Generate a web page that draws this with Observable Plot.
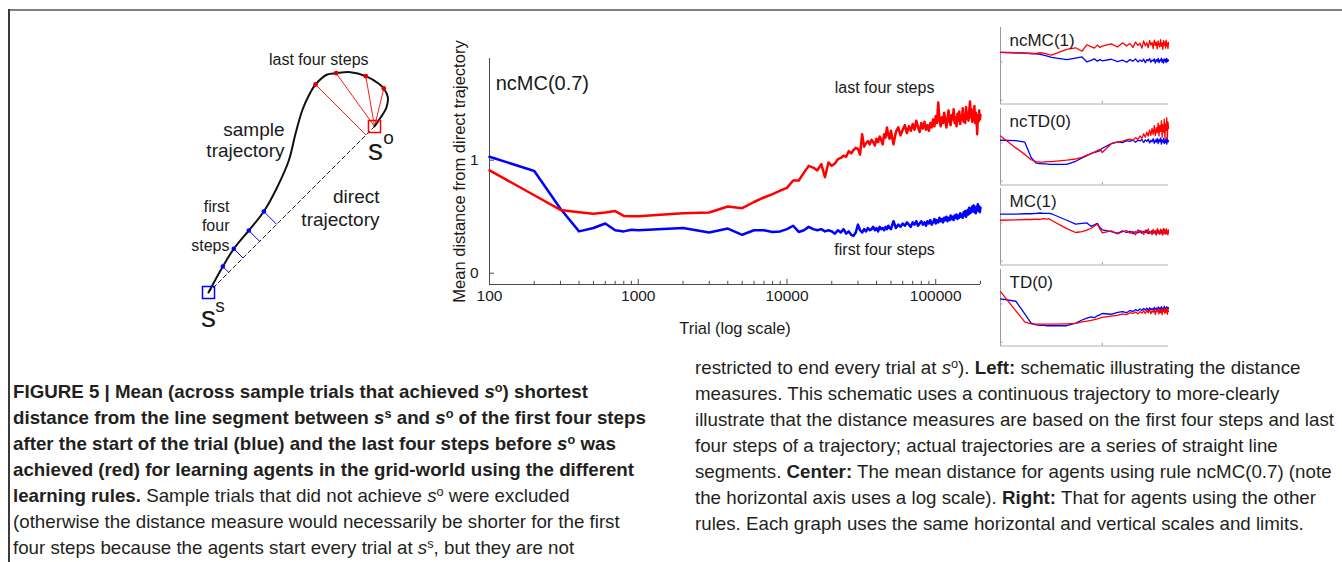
<!DOCTYPE html>
<html><head><meta charset="utf-8">
<script src="https://cdn.jsdelivr.net/npm/d3@7"></script>
<script src="https://cdn.jsdelivr.net/npm/@observablehq/plot@0.6"></script>
<style>
body{margin:0;background:#fff;}
#fig{position:relative;width:1342px;height:562px;overflow:hidden;font-family:"Liberation Sans",Arial,sans-serif;color:#231f20;background:#fff;}
.abs{position:absolute;}
.cap{position:absolute;white-space:nowrap;font-size:18.5px;line-height:26px;height:26px;}
.cap .in{display:inline-block;transform-origin:0 50%;}
.cap sup{font-size:0.68em;vertical-align:0;position:relative;top:-0.5em;}
</style></head>
<body>
<div id="fig">
  <div class="abs" style="left:8px;top:9px;width:1334px;height:2px;background:#808080"></div>
  <div class="abs" style="left:8px;top:9px;width:2px;height:553px;background:#3a3a3a"></div>
  <div id="schem" class="abs" style="left:0;top:0"></div>
  <div id="center" class="abs" style="left:440px;top:30px"></div>
  <div id="p0" class="abs"></div><div id="p1" class="abs"></div><div id="p2" class="abs"></div><div id="p3" class="abs"></div>
  <div id="caption"></div>
</div>
<script>
// ---------- data ----------
const xDomain = [100, 200000];
const yDomain = [-0.1, 1.9];
const majorTicks = [100, 1000, 10000, 100000];
const minorTicks = [200,300,400,500,600,700,800,900,2000,3000,4000,5000,6000,7000,8000,9000,20000,30000,40000,50000,60000,70000,80000,90000,200000];
const yTicks = [0, 1];
const panelXTicks = [100, 10000];

// trial numbers at which the mean distance was sampled
const trialsCenter = [...d3.range(100, 1001, 100), ...d3.range(2000, 9001, 1000), ...d3.range(10000, 50001, 1000), ...d3.range(52000, 200001, 2000)];
const trialsPanel = [...d3.range(100, 1001, 100), ...d3.range(2000, 9001, 1000), ...d3.range(10000, 200001, 5000)];

// centre: ncMC(0.7)
const centerFirst = [
 1.03,0.905,0.57,0.37,0.40,0.44,0.38,0.37,0.385,0.38,
 0.40,0.36,0.395,0.34,0.38,0.38,0.365,0.37,
 0.39,0.42,0.365,0.38,0.41,0.39,0.38,0.39,0.37,0.38,0.37,0.35,0.38,0.36,0.39,0.35,0.37,0.34,0.33,0.36,
 0.43,0.38,0.36,0.39,0.37,0.40,0.38,0.39,0.41,0.38,0.40,0.37,0.41,0.39,0.40,0.38,0.41,0.39,0.42,0.40,0.39,
 0.46,0.40,0.43,0.41,0.44,0.42,0.45,0.43,0.41,0.45,
 0.43,0.46,0.42,0.44,0.46,0.43,0.45,0.42,0.46,0.44,
 0.47,0.43,0.45,0.48,0.44,0.47,0.45,0.49,0.46,0.48,
 0.45,0.49,0.47,0.50,0.46,0.49,0.47,0.51,0.48,0.50,
 0.47,0.51,0.49,0.52,0.48,0.51,0.49,0.53,0.50,0.52,
 0.49,0.54,0.51,0.55,0.50,0.53,0.56,0.52,0.58,0.53,
 0.57,0.54,0.59,0.55,0.60,0.54,0.58,0.53,0.59,0.56,
 0.61,0.55,0.59,0.54,0.58];
const centerLast = [
 0.91,0.69,0.56,0.54,0.527,0.537,0.55,0.507,0.505,0.505,
 0.53,0.537,0.59,0.575,0.63,0.67,0.70,0.73,
 0.755,0.82,0.82,0.89,0.95,0.935,0.91,0.965,0.85,0.98,0.95,0.97,1.01,1.02,1.04,1.03,1.08,1.06,1.09,1.11,
 1.10,1.05,1.23,1.12,1.15,1.17,1.14,1.18,1.16,1.13,1.19,1.16,1.21,1.18,1.14,1.23,1.20,1.29,1.22,1.19,1.26,
 1.14,1.25,1.29,1.22,1.27,1.31,1.24,1.30,1.26,1.32,
 1.27,1.35,1.29,1.25,1.33,1.28,1.34,1.27,1.31,1.26,
 1.33,1.29,1.36,1.30,1.39,1.33,1.51,1.36,1.30,1.38,
 1.33,1.42,1.35,1.29,1.37,1.44,1.34,1.31,1.40,1.36,
 1.45,1.33,1.38,1.30,1.41,1.35,1.43,1.32,1.39,1.36,
 1.46,1.34,1.40,1.33,1.47,1.37,1.42,1.35,1.44,1.52,
 1.38,1.45,1.34,1.41,1.36,1.48,1.33,1.42,1.37,1.23,
 1.40,1.34,1.44,1.36,1.40];

// right-hand panels
const panelNames = ["ncMC(1)", "ncTD(0)", "MC(1)", "TD(0)"];
const ncMC1First = [1.25,1.24,1.23,1.22,1.21,1.20,1.18,1.16,1.14,1.12, 1.06,1.10,1.13,1.00,1.04,1.08,1.02,1.06,
 1.03,1.07,1.01,1.05,0.99,1.06,1.02,1.08,1.00,1.05,1.01,1.07,0.98,1.06,1.03,1.09,0.99,1.05,1.02,1.08,0.97,1.06,1.01,1.09,0.98,1.05,1.03,1.10,0.99,1.06,0.97,1.08,1.02,1.07,0.98,1.09,1.01,1.06,1.03];
const ncMC1Last = [1.25,1.24,1.23,1.22,1.22,1.24,1.23,1.21,1.19,1.18, 1.33,1.37,1.28,1.45,1.40,1.36,1.44,1.38,
 1.41,1.47,1.39,1.50,1.42,1.48,1.38,1.52,1.43,1.49,1.36,1.55,1.42,1.50,1.37,1.56,1.44,1.51,1.35,1.57,1.43,1.52,1.34,1.55,1.45,1.39,1.58,1.41,1.50,1.33,1.56,1.44,1.52,1.36,1.57,1.42,1.49,1.35,1.51];
const ncTD0First = [1.07,1.06,1.02,0.62,0.47,0.46,0.45,0.45,0.44,0.44, 0.44,0.52,0.61,0.67,0.72,0.75,0.77,0.80,
 0.86,0.98,1.03,1.01,1.06,1.04,1.08,1.02,1.07,1.05,1.09,1.01,1.08,1.04,1.10,1.00,1.07,1.03,1.11,0.99,1.08,1.02,1.12,0.98,1.09,1.03,1.13,0.97,1.08,1.02,1.12,0.98,1.07,1.01,1.13,0.97,1.09,1.02,1.06];
const ncTD0Last = [1.18,0.87,0.70,0.56,0.51,0.50,0.50,0.51,0.51,0.51, 0.55,0.58,0.62,0.68,0.72,0.76,0.80,0.83,
 0.75,0.98,1.02,1.05,1.08,1.10,1.06,1.14,1.09,1.18,1.12,1.24,1.15,1.28,1.18,1.34,1.20,1.38,1.22,1.45,1.19,1.40,1.26,1.52,1.18,1.46,1.30,1.58,1.15,1.48,1.28,1.62,1.12,1.50,1.33,1.66,1.10,1.55,1.38];
const MC1First = [1.23,1.23,1.24,1.24,1.25,1.26,1.25,1.25,1.25,1.24, 1.07,0.97,0.99,1.00,0.91,0.95,0.99,0.88,
 0.82,0.77,0.73,0.79,0.75,0.78,0.72,0.77,0.74,0.80,0.73,0.78,0.75,0.81,0.72,0.77,0.74,0.80,0.73,0.78,0.71,0.79,0.75,0.82,0.72,0.77,0.74,0.81,0.70,0.78,0.75,0.83,0.72,0.79,0.74,0.81,0.71,0.78,0.76];
const MC1Last = [1.07,1.08,1.09,1.09,1.10,1.09,1.11,1.10,1.11,1.07, 0.85,0.75,0.77,0.81,0.86,0.92,0.97,0.84,
 0.74,0.79,0.71,0.77,0.80,0.73,0.78,0.69,0.82,0.75,0.79,0.70,0.81,0.74,0.84,0.72,0.78,0.69,0.83,0.75,0.80,0.68,0.85,0.73,0.79,0.70,0.84,0.76,0.81,0.68,0.86,0.74,0.80,0.71,0.85,0.73,0.79,0.69,0.82];
const TD0First = [1.13,1.07,0.74,0.50,0.45,0.44,0.44,0.43,0.43,0.43, 0.43,0.50,0.58,0.63,0.66,0.64,0.69,0.72,
 0.75,0.73,0.78,0.80,0.77,0.83,0.80,0.85,0.82,0.87,0.83,0.88,0.84,0.89,0.83,0.90,0.85,0.88,0.84,0.91,0.86,0.89,0.83,0.92,0.86,0.90,0.84,0.93,0.87,0.89,0.85,0.94,0.86,0.90,0.84,0.93,0.87,0.91,0.88];
const TD0Last = [1.32,0.82,0.53,0.48,0.47,0.47,0.47,0.47,0.47,0.47, 0.48,0.49,0.53,0.55,0.57,0.59,0.61,0.63,
 0.65,0.68,0.70,0.74,0.72,0.77,0.75,0.79,0.74,0.80,0.76,0.82,0.75,0.83,0.77,0.85,0.74,0.82,0.78,0.86,0.73,0.84,0.79,0.88,0.74,0.83,0.77,0.87,0.72,0.85,0.80,0.89,0.75,0.84,0.78,0.90,0.73,0.86,0.80];
const panelFirst = [ncMC1First, ncTD0First, MC1First, TD0First];
const panelLast = [ncMC1Last, ncTD0Last, MC1Last, TD0Last];

// schematic (drawing units)
const ssPoint = [208, 292];
const soPoint = [374, 126];
const trajectory = [[208,292],[222.3,266],[233.3,248.3],[248.3,230],[263.3,211],[276.7,186.7],[288.3,160],[295,133.3],[301.7,110],[308.3,95],[315,84],[326.7,74],[335.7,72.7],[350,71.7],[365.3,75.7],[378.3,83.3],[383.3,88],[387.3,96.7],[386,106.7],[380,117.3],[374,126]];
const firstSteps = [[222.3,266],[233.3,248.3],[248.3,230],[263.3,211]];
const lastSteps = [[315,84],[335.7,72.7],[365.3,75.7],[383.3,88]];
const schemLabels = [
 {x:318.3,y:59.3,text:"last four steps",size:16,anchor:"middle"},
 {x:284,y:129,text:"sample",size:19,anchor:"end"},
 {x:284,y:150.5,text:"trajectory",size:19,anchor:"end"},
 {x:379,y:196.7,text:"direct",size:19,anchor:"end"},
 {x:379,y:219.3,text:"trajectory",size:19,anchor:"end"},
 {x:229,y:206,text:"first",size:16,anchor:"end"},
 {x:229,y:225.5,text:"four",size:16,anchor:"end"},
 {x:229,y:245,text:"steps",size:16,anchor:"end"},
 {x:208,y:317,text:"s",size:30,anchor:"middle"},
 {x:219.5,y:305,text:"s",size:19,anchor:"middle"},
 {x:375,y:150,text:"s",size:30,anchor:"middle"},
 {x:388,y:137,text:"o",size:19,anchor:"middle"}
];
const centerLabels = [
 {trial:110,dist:1.675,text:"ncMC(0.7)",size:20,anchor:"start"},
 {trial:45300,dist:1.637,text:"last four steps",size:16,anchor:"middle"},
 {trial:45300,dist:0.206,text:"first four steps",size:16,anchor:"middle"}
];
const xLabel = "Trial (log scale)";
const yLabel = "Mean distance from direct trajectory";

const BLUE = "#0000ff", RED = "#ff0000", AX = "#4a4a4a";
const FONT = {fontFamily: "'Liberation Sans', Arial, sans-serif", fontSize: "14px", background: "none", overflow: "visible", color: "#1a1a1a"};

// ---------- schematic ----------
function project(p) {
  const dx = soPoint[0]-ssPoint[0], dy = soPoint[1]-ssPoint[1];
  let t = ((p[0]-ssPoint[0])*dx + (p[1]-ssPoint[1])*dy) / (dx*dx + dy*dy);
  t = Math.max(0, Math.min(1, t));
  return [ssPoint[0] + t*dx, ssPoint[1] + t*dy];
}
const schem = Plot.plot({
  width: 440, height: 350, margin: 0,
  x: {domain: [0, 440], range: [0, 440], axis: null},
  y: {domain: [0, 350], range: [0, 350], axis: null},
  style: FONT,
  marks: [
    Plot.line([ssPoint, soPoint], {x: d => d[0], y: d => d[1], stroke: "#222", strokeWidth: 1, strokeDasharray: "4,3"}),
    Plot.link(firstSteps, {x1: d => d[0], y1: d => d[1], x2: d => project(d)[0], y2: d => project(d)[1], stroke: BLUE, strokeWidth: 1}),
    Plot.link(lastSteps, {x1: d => d[0], y1: d => d[1], x2: d => project(d)[0], y2: d => project(d)[1], stroke: RED, strokeWidth: 0.9}),
    Plot.line(trajectory, {x: d => d[0], y: d => d[1], curve: "catmull-rom", stroke: "#111", strokeWidth: 2}),
    Plot.dot(firstSteps, {x: d => d[0], y: d => d[1], r: 2.3, fill: BLUE}),
    Plot.dot(lastSteps, {x: d => d[0], y: d => d[1], r: 2.4, fill: "#e00000"}),
    Plot.dot([ssPoint], {x: d => d[0], y: d => d[1], symbol: "square", r: 6.8, stroke: BLUE, strokeWidth: 1.5, fill: "none"}),
    Plot.dot([soPoint], {x: d => d[0], y: d => d[1], symbol: "square", r: 6.8, stroke: RED, strokeWidth: 1.5, fill: "none"}),
    ...schemLabels.map(l => Plot.text([l], {x: "x", y: "y", text: "text", fontSize: l.size, textAnchor: l.anchor, fill: "#1a1a1a"}))
  ]
});
document.getElementById("schem").appendChild(schem);

// ---------- centre chart ----------
const center = Plot.plot({
  width: 560, height: 320,
  marginLeft: 49, marginRight: 20, marginTop: 28, marginBottom: 66,
  x: {type: "log", domain: xDomain, axis: null},
  y: {domain: yDomain, axis: null},
  style: FONT,
  marks: [
    Plot.ruleY([yDomain[0]], {x1: xDomain[0], x2: xDomain[1], stroke: AX}),
    Plot.ruleX([xDomain[0]], {y1: yDomain[0], y2: yDomain[1], stroke: AX}),
    Plot.ruleX(majorTicks, {x: d => d, y1: yDomain[0], y2: yDomain[0] + 0.045, stroke: AX}),
    Plot.ruleX(minorTicks, {x: d => d, y1: yDomain[0], y2: yDomain[0] + 0.028, stroke: AX}),
    Plot.ruleY(yTicks, {y: d => d, x1: 100, x2: 108, stroke: AX}),
    Plot.text(majorTicks, {x: d => d, frameAnchor: "bottom", lineAnchor: "middle", dy: 12, text: d => String(d), fontSize: 15.5}),
    Plot.text(yTicks, {y: d => d, frameAnchor: "left", textAnchor: "end", dx: -11, text: d => String(d), fontSize: 15.5}),
    Plot.text([xLabel], {text: d => d, frameAnchor: "bottom", dy: 49, fontSize: 16.4}),
    Plot.text([yLabel], {text: d => d, frameAnchor: "left", dx: -30, rotate: -90, textAnchor: "middle", fontSize: 16.5}),
    Plot.line(centerFirst, {x: trialsCenter, y: d => d, stroke: BLUE, strokeWidth: 2.5}),
    Plot.line(centerLast, {x: trialsCenter, y: d => d, stroke: RED, strokeWidth: 2.5}),
    ...centerLabels.map(l => Plot.text([l], {x: "trial", y: "dist", text: "text", fontSize: l.size, textAnchor: l.anchor}))
  ]
});
document.getElementById("center").appendChild(center);

// ---------- right-hand panels ----------
const panelTops = [27, 107.5, 188, 268.5];
panelNames.forEach((name, i) => {
  const svg = Plot.plot({
    width: 185, height: 83, marginLeft: 10, marginRight: 7, marginTop: 3, marginBottom: 3.5,
    x: {type: "log", domain: xDomain, axis: null},
    y: {domain: yDomain, axis: null},
    style: FONT,
    marks: [
      Plot.ruleX([xDomain[0]], {y1: yDomain[0], y2: yDomain[1], stroke: "#9a9a9a"}),
      Plot.ruleY([yDomain[0]], {x1: xDomain[0], x2: xDomain[1], stroke: "#b0b0b0"}),
      Plot.ruleX(panelXTicks, {x: d => d, y1: yDomain[0], y2: yDomain[0] + 0.07, stroke: "#9a9a9a"}),
      Plot.ruleY(yTicks, {y: d => d, x1: 100, x2: 112, stroke: "#9a9a9a"}),
      Plot.line(panelFirst[i], {x: trialsPanel, y: d => d, stroke: BLUE, strokeWidth: 1.3}),
      Plot.line(panelLast[i], {x: trialsPanel, y: d => d, stroke: RED, strokeWidth: 1.3}),
      Plot.text([name], {text: d => d, frameAnchor: "top-left", dx: 9, dy: 6, fontSize: 17})
    ]
  });
  const host = document.getElementById("p" + i);
  host.style.left = "990px";
  host.style.top = (panelTops[i] - 3) + "px";
  host.appendChild(svg);
});

// ---------- caption ----------
const capLeft = [
 '<b>FIGURE 5 | Mean (across sample trials that achieved <i>s</i><sup>o</sup>) shortest</b>',
 '<b>distance from the line segment between <i>s</i><sup>s</sup> and <i>s</i><sup>o</sup> of the first four steps</b>',
 '<b>after the start of the trial (blue) and the last four steps before <i>s</i><sup>o</sup> was</b>',
 '<b>achieved (red) for learning agents in the grid-world using the different</b>',
 '<b>learning rules.</b> Sample trials that did not achieve <i>s</i><sup>o</sup> were excluded',
 '(otherwise the distance measure would necessarily be shorter for the first',
 'four steps because the agents start every trial at <i>s</i><sup>s</sup>, but they are not'
];
const capRight = [
 'restricted to end every trial at <i>s</i><sup>o</sup>). <b>Left:</b> schematic illustrating the distance',
 'measures. This schematic uses a continuous trajectory to more-clearly',
 'illustrate that the distance measures are based on the first four steps and last',
 'four steps of a trajectory; actual trajectories are a series of straight line',
 'segments. <b>Center:</b> The mean distance for agents using rule ncMC(0.7) (note',
 'the horizontal axis uses a log scale). <b>Right:</b> That for agents using the other',
 'rules. Each graph uses the same horizontal and vertical scales and limits.'
];
const cap = document.getElementById("caption");
capLeft.forEach((h, i) => {
  const d = document.createElement("div"); d.className = "cap";
  d.style.left = "13px"; d.style.top = (392 - 13 + 26 * i) + "px";
  d.innerHTML = '<span class="in">' + h + '</span>'; cap.appendChild(d);
});
capRight.forEach((h, i) => {
  const d = document.createElement("div"); d.className = "cap";
  d.style.left = "695px"; d.style.top = (368 - 13 + 26 * i) + "px";
  d.innerHTML = '<span class="in"' + (i === 2 ? ' id="capref"' : '') + '>' + h + '</span>'; cap.appendChild(d);
});
function fitCaption() {
  const spans = document.querySelectorAll(".cap .in");
  spans.forEach(s => s.style.transform = "none");
  const w = document.getElementById("capref").getBoundingClientRect().width;
  const k = 639 / w;
  spans.forEach(s => s.style.transform = "scaleX(" + k + ")");
}
fitCaption();
if (document.fonts) document.fonts.ready.then(fitCaption);
</script>
</body></html>
